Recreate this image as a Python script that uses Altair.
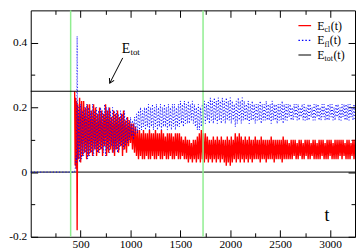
import altair as alt
import pandas as pd

# ---------------- data ----------------
T_EARLY_CL = [440, 445, 450, 455, 460, 465, 470]
E_CL_EARLY = [0.25, 0.02, 0.23, 0.01, 0.22, -0.18, 0.21]
T_EARLY_FL = [0, 430, 440, 445, 450, 455, 460, 465, 470]
E_FL_EARLY = [0.0, 0.0, 0.0, 0.01, 0.02, 0.05, 0.03, 0.42, 0.04]

T_START = 480
T_STEP = 10
E_CL = [
    0.04, 0.23, 0.03, 0.22, 0.05, 0.22, 0.06, 0.20, 0.04, 0.21,
    0.05, 0.21, 0.06, 0.19, 0.05, 0.21, 0.07, 0.20, 0.05, 0.18,
    0.06, 0.20, 0.07, 0.19, 0.05, 0.18, 0.08, 0.21, 0.05, 0.19,
    0.06, 0.20, 0.07, 0.17, 0.06, 0.19, 0.05, 0.18, 0.07, 0.19,
    0.06, 0.17, 0.08, 0.18, 0.05, 0.19, 0.07, 0.16, 0.06, 0.17,
    0.08, 0.16, 0.09, 0.15, 0.07, 0.15, 0.06, 0.14, 0.05, 0.13,
    0.04, 0.13, 0.05, 0.12, 0.04, 0.13, 0.04, 0.12, 0.05, 0.12,
    0.04, 0.13, 0.04, 0.12, 0.05, 0.12, 0.04, 0.13, 0.04, 0.12,
    0.05, 0.12, 0.04, 0.13, 0.04, 0.12, 0.05, 0.11, 0.04, 0.12,
    0.04, 0.12, 0.05, 0.12, 0.04, 0.11, 0.04, 0.12, 0.05, 0.12,
    0.04, 0.12, 0.04, 0.11, 0.05, 0.10, 0.04, 0.11, 0.04, 0.10,
    0.03, 0.10, 0.04, 0.09, 0.03, 0.10, 0.04, 0.10, 0.03, 0.11,
    0.04, 0.12, 0.03, 0.13, 0.04, 0.12, 0.03, 0.12, 0.04, 0.11,
    0.03, 0.10, 0.04, 0.10, 0.03, 0.11, 0.04, 0.10, 0.03, 0.11,
    0.04, 0.10, 0.03, 0.11, 0.04, 0.10, 0.03, 0.10, 0.02, 0.11,
    0.03, 0.10, 0.02, 0.11, 0.03, 0.10, 0.04, 0.12, 0.03, 0.11,
    0.04, 0.12, 0.03, 0.11, 0.04, 0.10, 0.03, 0.11, 0.04, 0.10,
    0.03, 0.11, 0.04, 0.10, 0.03, 0.10, 0.04, 0.11, 0.04, 0.10,
    0.04, 0.10, 0.03, 0.11, 0.04, 0.10, 0.04, 0.10, 0.03, 0.10,
    0.04, 0.10, 0.04, 0.11, 0.04, 0.10, 0.03, 0.10, 0.04, 0.10,
    0.04, 0.10, 0.04, 0.10, 0.03, 0.11, 0.04, 0.10, 0.04, 0.10,
    0.04, 0.09, 0.04, 0.10, 0.04, 0.10, 0.05, 0.10, 0.04, 0.09,
    0.04, 0.10, 0.05, 0.10, 0.04, 0.09, 0.04, 0.10, 0.05, 0.10,
    0.04, 0.10, 0.04, 0.09, 0.05, 0.10, 0.04, 0.10, 0.04, 0.09,
    0.04, 0.10, 0.04, 0.10, 0.05, 0.10, 0.04, 0.09, 0.04, 0.10,
    0.04, 0.10, 0.05, 0.10, 0.04, 0.09, 0.04, 0.10, 0.04, 0.10,
    0.04, 0.10, 0.05, 0.10, 0.04, 0.10, 0.05, 0.09, 0.04, 0.10,
    0.04, 0.10, 0.04, 0.09, 0.05, 0.10, 0.04, 0.10,
]
E_FL = [
    0.20, 0.03, 0.21, 0.04, 0.19, 0.05, 0.20, 0.06, 0.21, 0.04,
    0.20, 0.05, 0.19, 0.06, 0.21, 0.05, 0.19, 0.07, 0.20, 0.06,
    0.19, 0.06, 0.20, 0.07, 0.19, 0.06, 0.21, 0.05, 0.20, 0.07,
    0.20, 0.06, 0.19, 0.08, 0.20, 0.06, 0.19, 0.07, 0.19, 0.06,
    0.18, 0.07, 0.19, 0.08, 0.18, 0.07, 0.19, 0.08, 0.17, 0.09,
    0.16, 0.10, 0.17, 0.11, 0.16, 0.10, 0.17, 0.12, 0.18, 0.12,
    0.19, 0.13, 0.20, 0.13, 0.19, 0.14, 0.20, 0.13, 0.20, 0.14,
    0.21, 0.13, 0.20, 0.14, 0.21, 0.13, 0.20, 0.14, 0.21, 0.13,
    0.20, 0.14, 0.21, 0.13, 0.20, 0.14, 0.21, 0.14, 0.20, 0.13,
    0.21, 0.14, 0.20, 0.13, 0.21, 0.14, 0.21, 0.13, 0.20, 0.14,
    0.21, 0.14, 0.22, 0.15, 0.21, 0.14, 0.22, 0.15, 0.21, 0.15,
    0.22, 0.15, 0.21, 0.16, 0.22, 0.15, 0.21, 0.14, 0.20, 0.13,
    0.21, 0.13, 0.20, 0.14, 0.21, 0.15, 0.22, 0.15, 0.21, 0.16,
    0.22, 0.15, 0.23, 0.16, 0.22, 0.15, 0.23, 0.16, 0.22, 0.15,
    0.23, 0.16, 0.22, 0.15, 0.23, 0.16, 0.22, 0.15, 0.23, 0.16,
    0.22, 0.16, 0.23, 0.15, 0.22, 0.16, 0.21, 0.14, 0.22, 0.15,
    0.23, 0.16, 0.22, 0.15, 0.23, 0.16, 0.22, 0.16, 0.21, 0.16,
    0.22, 0.15, 0.21, 0.16, 0.22, 0.16, 0.21, 0.15, 0.21, 0.16,
    0.21, 0.16, 0.22, 0.15, 0.21, 0.16, 0.21, 0.16, 0.22, 0.16,
    0.21, 0.16, 0.21, 0.15, 0.22, 0.16, 0.21, 0.16, 0.21, 0.15,
    0.21, 0.16, 0.21, 0.16, 0.22, 0.15, 0.21, 0.16, 0.21, 0.16,
    0.21, 0.17, 0.21, 0.16, 0.20, 0.16, 0.21, 0.17, 0.21, 0.16,
    0.21, 0.16, 0.20, 0.17, 0.21, 0.16, 0.21, 0.16, 0.20, 0.16,
    0.21, 0.16, 0.21, 0.17, 0.20, 0.16, 0.21, 0.16, 0.21, 0.17,
    0.21, 0.16, 0.20, 0.16, 0.21, 0.17, 0.21, 0.16, 0.20, 0.16,
    0.21, 0.16, 0.21, 0.17, 0.21, 0.16, 0.20, 0.16, 0.21, 0.17,
    0.21, 0.16, 0.20, 0.16, 0.21, 0.17, 0.21, 0.16, 0.21, 0.16,
    0.21, 0.16, 0.21, 0.17, 0.20, 0.16, 0.21, 0.16,
]
E_TOT = 0.25
ZERO = 0.0
MARKER_T = [400, 1727]

X_DOMAIN = [0, 3250]
Y_DOMAIN = [-0.2, 0.5]
X_TICKS = [250, 500, 750, 1000, 1250, 1500, 1750, 2000, 2250, 2500, 2750, 3000]
Y_TICKS = [-0.2, -0.1, 0.0, 0.1, 0.2, 0.3, 0.4]

LEGEND_SUBS = ["cl", "fl", "tot"]
LEGEND_Y = [0.453, 0.4075, 0.362]
LEGEND_LINE_X = [2683, 2810]
LEGEND_TEXT_X = 2871

ANNOT_E_POS = (912, 0.369)
ARROW_T = [922, 792]
ARROW_V = [0.353, 0.275]
T_LABEL_POS = (2944, -0.152)

# ---------------- frames ----------------
t_main = [T_START + T_STEP * i for i in range(len(E_CL))]
df_cl = pd.DataFrame({"t": T_EARLY_CL + t_main, "v": E_CL_EARLY + E_CL})
df_fl = pd.DataFrame({"t": T_EARLY_FL + t_main, "v": E_FL_EARLY + E_FL})

FONT = "Liberation Serif"
xs = alt.Scale(domain=X_DOMAIN, nice=False, zero=False)
ys = alt.Scale(domain=Y_DOMAIN, nice=False, zero=False)

X_MINOR = "datum.value % 500 !== 0"
Y_MINOR = "abs(round(datum.value * 10)) % 2 === 1"


def x_axis(orient, labels):
    kw = dict(
        orient=orient, values=X_TICKS, offset=-7, tickSize=7, domain=False,
        grid=False, tickColor="black", tickWidth=1, title=None,
        tickDash={"condition": {"test": X_MINOR, "value": [0, 3, 4]}, "value": [8, 1]},
        labels=labels,
    )
    if labels:
        kw.update(format="d", labelExpr="datum.value % 500 === 0 ? datum.label : ''",
                  labelFont=FONT, labelFontSize=11.5, labelColor="black",
                  labelPadding=2, labelOverlap=False, labelFlush=False)
    return alt.Axis(**kw)


def y_axis(orient, labels):
    kw = dict(
        orient=orient, values=Y_TICKS, offset=-7, tickSize=7, domain=False,
        grid=False, tickColor="black", tickWidth=1, title=None,
        tickDash={"condition": {"test": Y_MINOR, "value": [0, 3, 4]}, "value": [8, 1]},
        labels=labels,
    )
    if labels:
        kw.update(labelExpr=(Y_MINOR + " ? '' : (round(datum.value*10) === 0 ? '0' : "
                             "((datum.value < 0 ? '-' : '') + format(abs(datum.value), '.1f')))"),
                  labelFont=FONT, labelFontSize=11.5, labelColor="black",
                  labelPadding=4, labelOverlap=False, labelFlush=False)
    return alt.Axis(**kw)


red = alt.Chart(df_cl).mark_line(color="#ff0000", strokeWidth=1.4, clip=True).encode(
    x=alt.X("t:Q", scale=xs, axis=x_axis("bottom", True)),
    y=alt.Y("v:Q", scale=ys, axis=y_axis("left", True)),
)
blue = alt.Chart(df_fl).mark_line(color="#0000ff", strokeWidth=1, strokeDash=[1, 2.2], clip=True).encode(
    x=alt.X("t:Q", scale=xs, axis=x_axis("top", False)),
    y=alt.Y("v:Q", scale=ys, axis=y_axis("right", False)),
)

zero_rule = alt.Chart(pd.DataFrame({"v": [ZERO]})).mark_rule(color="black", strokeWidth=1).encode(
    y=alt.Y("v:Q", scale=ys, axis=None))
tot_rule = alt.Chart(pd.DataFrame({"v": [E_TOT]})).mark_rule(color="black", strokeWidth=1.2).encode(
    y=alt.Y("v:Q", scale=ys, axis=None))
green = alt.Chart(pd.DataFrame({"t": MARKER_T})).mark_rule(color="#90ee90", strokeWidth=1.5).encode(
    x=alt.X("t:Q", scale=xs, axis=None))

# legend
leg = pd.DataFrame({"x": [LEGEND_LINE_X[0]] * 3, "x2": [LEGEND_LINE_X[1]] * 3,
                    "y": LEGEND_Y, "tx": [LEGEND_TEXT_X] * 3, "sub": LEGEND_SUBS})
colors = ["#ff0000", "#0000ff", "#000000"]
dashes = [[1, 0], [1.5, 2], [1, 0]]
paren_dx = [13.8, 12.8, 16.4]
legend_layers = []
for i in range(3):
    row = leg.iloc[[i]]
    legend_layers.append(
        alt.Chart(row).mark_rule(color=colors[i], strokeWidth=1.2, strokeDash=dashes[i]).encode(
            x=alt.X("x:Q", scale=xs, axis=None), x2="x2:Q", y=alt.Y("y:Q", scale=ys, axis=None)))
    legend_layers.append(
        alt.Chart(row).mark_text(text="(t)", font=FONT, fontSize=12, align="left",
                                 baseline="alphabetic", dx=paren_dx[i], dy=4, color="black").encode(
            x=alt.X("tx:Q", scale=xs, axis=None), y=alt.Y("y:Q", scale=ys, axis=None)))
legend_E = alt.Chart(leg).mark_text(text="E", font=FONT, fontSize=12, align="left",
                                    baseline="alphabetic", dy=4, color="black").encode(
    x=alt.X("tx:Q", scale=xs, axis=None), y=alt.Y("y:Q", scale=ys, axis=None))
legend_sub = alt.Chart(leg).mark_text(font=FONT, fontSize=8, align="left",
                                      baseline="alphabetic", dx=7.4, dy=6.5, color="black").encode(
    x=alt.X("tx:Q", scale=xs, axis=None), y=alt.Y("y:Q", scale=ys, axis=None), text="sub:N")

# annotation E_tot with arrow
ann = pd.DataFrame({"x": [ANNOT_E_POS[0]], "y": [ANNOT_E_POS[1]]})
ann_E = alt.Chart(ann).mark_text(text="E", font=FONT, fontSize=14, align="left",
                                 baseline="alphabetic", color="black").encode(
    x=alt.X("x:Q", scale=xs, axis=None), y=alt.Y("y:Q", scale=ys, axis=None))
ann_sub = alt.Chart(ann).mark_text(text="tot", font=FONT, fontSize=9, align="left",
                                   baseline="alphabetic", dx=8.8, dy=2, color="black").encode(
    x=alt.X("x:Q", scale=xs, axis=None), y=alt.Y("y:Q", scale=ys, axis=None))
arrow_df = pd.DataFrame({"t": ARROW_T, "v": ARROW_V})
arrow_line = alt.Chart(arrow_df).mark_line(color="black", strokeWidth=1).encode(
    x=alt.X("t:Q", scale=xs, axis=None), y=alt.Y("v:Q", scale=ys, axis=None))
arrow_head = alt.Chart(arrow_df.iloc[[1]]).mark_point(
    shape="M-0.6,1L0,0L0.6,1", filled=False, size=80, angle=207,
    stroke="black", strokeWidth=1, opacity=1).encode(
    x=alt.X("t:Q", scale=xs, axis=None), y=alt.Y("v:Q", scale=ys, axis=None))

tlab = pd.DataFrame({"x": [T_LABEL_POS[0]], "y": [T_LABEL_POS[1]]})
t_text = alt.Chart(tlab).mark_text(text="t", font=FONT, fontSize=18, align="left",
                                   baseline="alphabetic", color="black").encode(
    x=alt.X("x:Q", scale=xs, axis=None), y=alt.Y("y:Q", scale=ys, axis=None))

chart = alt.layer(
    zero_rule, red, blue, green, tot_rule,
    *legend_layers, legend_E, legend_sub,
    ann_E, ann_sub, arrow_line, arrow_head, t_text,
).resolve_axis(x="independent", y="independent").properties(
    width=328, height=229, padding=0, background="white",
).configure_view(stroke="black", strokeWidth=1)

chart.save("out.html", embed_options={"renderer": "svg", "actions": False})
